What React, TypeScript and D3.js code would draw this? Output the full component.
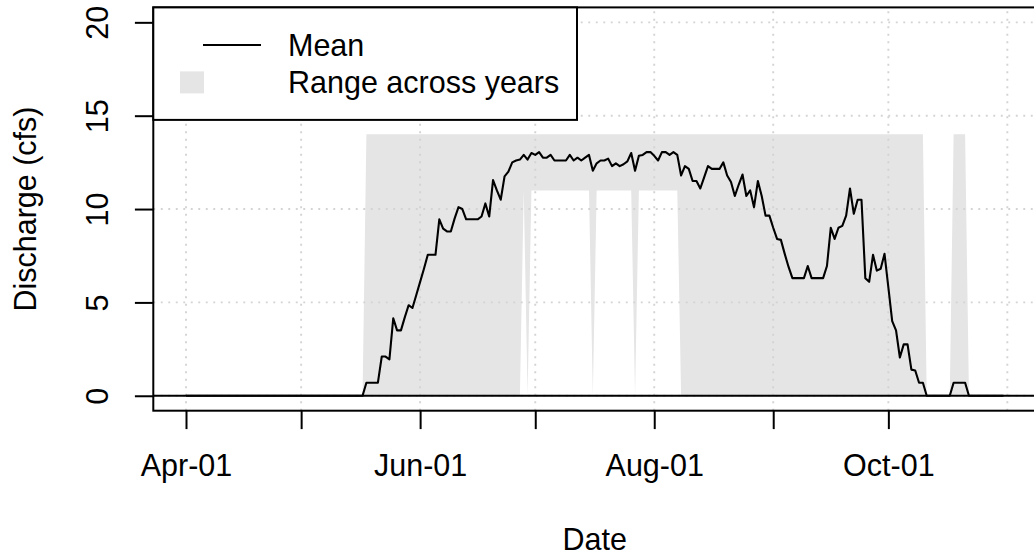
import React, { useEffect, useRef } from "react";
import * as d3 from "d3";

const W = 1034;
const H = 560;
const FONT = "'Liberation Sans', Arial, Helvetica, sans-serif";
const FS = 30.5;

// daily discharge (cfs), Apr-01 .. Oct-31, one row per month
const firstDay = "2021-04-01";

const meanFlow = [
  0, 0, 0, 0, 0, 0, 0, 0, 0, 0, 0, 0, 0, 0, 0, 0, 0, 0, 0, 0, 0, 0, 0, 0, 0, 0, 0, 0, 0, 0,
  0, 0, 0, 0, 0, 0, 0, 0, 0, 0, 0, 0, 0, 0, 0, 0, 0, 0.7, 0.7, 0.7, 0.7, 2.1, 2.1, 1.95, 4.15, 3.5, 3.5, 4.2, 4.85, 4.7, 5.4,
  6.1, 6.8, 7.55, 7.55, 7.55, 9.45, 8.95, 8.8, 8.8, 9.5, 10.1, 10.0, 9.45, 9.45, 9.45, 9.45, 9.6, 10.3, 9.6, 11.55, 11.0, 10.5, 11.75, 12.0, 12.5, 12.6, 12.65, 12.9, 12.65, 13.0,
  12.9, 13.05, 12.75, 12.75, 12.9, 12.6, 12.6, 12.6, 12.6, 12.9, 12.6, 12.75, 12.6, 12.75, 12.9, 12.05, 12.45, 12.6, 12.6, 12.7, 12.3, 12.45, 12.3, 12.4, 12.55, 13.0, 12.05, 12.85, 12.9, 13.05, 13.05,
  12.85, 12.6, 13.05, 13.05, 12.9, 13.05, 12.9, 11.8, 12.3, 12.15, 11.5, 11.5, 11.1, 11.7, 12.3, 12.15, 12.15, 12.15, 12.5, 11.8, 11.45, 10.7, 11.3, 11.85, 10.7, 11.0, 10.1, 11.5, 10.7, 9.65, 9.65,
  9.0, 8.4, 8.35, 7.6, 6.9, 6.3, 6.3, 6.3, 6.3, 6.95, 6.3, 6.3, 6.3, 6.3, 6.95, 9.0, 8.4, 9.0, 9.1, 9.65, 11.1, 9.75, 10.5, 10.5, 6.3, 6.1, 7.55, 6.7, 6.8, 7.6,
  5.8, 4.0, 3.5, 2.05, 2.75, 2.75, 1.4, 1.35, 0.7, 0.7, 0, 0, 0, 0, 0, 0, 0, 0.7, 0.7, 0.7, 0.7, 0, 0, 0, 0, 0, 0, 0, 0, 0, 0,
];

const minFlow = [
  0, 0, 0, 0, 0, 0, 0, 0, 0, 0, 0, 0, 0, 0, 0, 0, 0, 0, 0, 0, 0, 0, 0, 0, 0, 0, 0, 0, 0, 0,
  0, 0, 0, 0, 0, 0, 0, 0, 0, 0, 0, 0, 0, 0, 0, 0, 0, 0, 0, 0, 0, 0, 0, 0, 0, 0, 0, 0, 0, 0, 0,
  0, 0, 0, 0, 0, 0, 0, 0, 0, 0, 0, 0, 0, 0, 0, 0, 0, 0, 0, 0, 0, 0, 0, 0, 0, 0, 0, 11, 0, 11,
  11, 11, 11, 11, 11, 11, 11, 11, 11, 11, 11, 11, 11, 11, 11, 0, 11, 11, 11, 11, 11, 11, 11, 11, 11, 11, 0, 11, 11, 11, 11,
  11, 11, 11, 11, 11, 11, 11, 0, 0, 0, 0, 0, 0, 0, 0, 0, 0, 0, 0, 0, 0, 0, 0, 0, 0, 0, 0, 0, 0, 0, 0,
  0, 0, 0, 0, 0, 0, 0, 0, 0, 0, 0, 0, 0, 0, 0, 0, 0, 0, 0, 0, 0, 0, 0, 0, 0, 0, 0, 0, 0, 0,
  0, 0, 0, 0, 0, 0, 0, 0, 0, 0, 0, 0, 0, 0, 0, 0, 0, 0, 0, 0, 0, 0, 0, 0, 0, 0, 0, 0, 0, 0, 0,
];

const maxFlow = [
  0, 0, 0, 0, 0, 0, 0, 0, 0, 0, 0, 0, 0, 0, 0, 0, 0, 0, 0, 0, 0, 0, 0, 0, 0, 0, 0, 0, 0, 0,
  0, 0, 0, 0, 0, 0, 0, 0, 0, 0, 0, 0, 0, 0, 0, 0, 0, 14, 14, 14, 14, 14, 14, 14, 14, 14, 14, 14, 14, 14, 14,
  14, 14, 14, 14, 14, 14, 14, 14, 14, 14, 14, 14, 14, 14, 14, 14, 14, 14, 14, 14, 14, 14, 14, 14, 14, 14, 14, 14, 14, 14,
  14, 14, 14, 14, 14, 14, 14, 14, 14, 14, 14, 14, 14, 14, 14, 14, 14, 14, 14, 14, 14, 14, 14, 14, 14, 14, 14, 14, 14, 14, 14,
  14, 14, 14, 14, 14, 14, 14, 14, 14, 14, 14, 14, 14, 14, 14, 14, 14, 14, 14, 14, 14, 14, 14, 14, 14, 14, 14, 14, 14, 14, 14,
  14, 14, 14, 14, 14, 14, 14, 14, 14, 14, 14, 14, 14, 14, 14, 14, 14, 14, 14, 14, 14, 14, 14, 14, 14, 14, 14, 14, 14, 14,
  14, 14, 14, 14, 14, 14, 14, 14, 14, 14, 0, 0, 0, 0, 0, 0, 0, 14, 14, 14, 14, 0, 0, 0, 0, 0, 0, 0, 0, 0, 0,
];

const yTicks = [0, 5, 10, 15, 20];
const yLimits = [0, 20];
const tickMonths = ["2021-04-01", "2021-05-01", "2021-06-01", "2021-07-01", "2021-08-01", "2021-09-01", "2021-10-01"];
const gridMonths = [...tickMonths, "2021-11-01"];
const legendLabels = ["Mean", "Range across years"];

export default function App() {
  const ref = useRef<SVGSVGElement>(null);

  useEffect(() => {
    const svg = d3.select(ref.current);
    svg.selectAll("*").remove();

    const box = { left: 153.3, right: 1036.2, top: 7.4, bottom: 410.7 };
    const line = 36.8; // one margin line
    const lw = 2;
    const padX = ((box.right - box.left) * 0.04) / 1.08;
    const padY = ((box.bottom - box.top) * 0.04) / 1.08;

    const parse = d3.utcParse("%Y-%m-%d");
    const start = parse(firstDay)!;
    const days = meanFlow.map((_, i) => d3.utcDay.offset(start, i));

    const x = d3.scaleUtc()
      .domain([days[0], days[days.length - 1]])
      .range([box.left + padX, box.right - padX]);
    const y = d3.scaleLinear()
      .domain(yLimits)
      .range([box.bottom - padY, box.top + padY]);

    svg.append("defs").append("clipPath").attr("id", "plotClip")
      .append("rect")
      .attr("x", box.left).attr("y", box.top)
      .attr("width", box.right - box.left).attr("height", box.bottom - box.top);

    const plot = svg.append("g").attr("clip-path", "url(#plotClip)");

    // range polygon
    const area = d3.area<number>()
      .x(i => x(days[i]))
      .y0(i => y(minFlow[i]))
      .y1(i => y(maxFlow[i]));
    plot.append("path")
      .attr("d", area(d3.range(days.length)))
      .attr("fill", "#e5e5e5");

    // grid
    const grid = plot.append("g")
      .attr("stroke", "#d3d3d3")
      .attr("stroke-width", 1.9)
      .attr("stroke-dasharray", "1.9 5.6");
    grid.selectAll("line.v")
      .data(gridMonths.map(m => parse(m)!))
      .join("line")
      .attr("class", "v")
      .attr("x1", d => x(d)).attr("x2", d => x(d))
      .attr("y1", box.bottom).attr("y2", box.top);
    grid.selectAll("line.h")
      .data(yTicks)
      .join("line")
      .attr("class", "h")
      .attr("x1", box.left).attr("x2", box.right)
      .attr("y1", d => y(d)).attr("y2", d => y(d));

    // zero line
    plot.append("line")
      .attr("x1", box.left).attr("x2", box.right)
      .attr("y1", y(0)).attr("y2", y(0))
      .attr("stroke", "#000").attr("stroke-width", lw);

    // mean line
    const meanLine = d3.line<number>()
      .x((_, i) => x(days[i]))
      .y(d => y(d));
    plot.append("path")
      .attr("d", meanLine(meanFlow))
      .attr("fill", "none")
      .attr("stroke", "#000")
      .attr("stroke-width", 2.1)
      .attr("stroke-linejoin", "round");

    // box
    svg.append("rect")
      .attr("x", box.left).attr("y", box.top)
      .attr("width", box.right - box.left).attr("height", box.bottom - box.top)
      .attr("fill", "none").attr("stroke", "#000").attr("stroke-width", lw);

    // x axis
    const fmt = d3.utcFormat("%b-%d");
    const xAxis = svg.append("g")
      .attr("transform", `translate(0,${box.bottom})`)
      .call(d3.axisBottom(x)
        .tickValues(tickMonths.map(m => parse(m)!))
        .tickSize(line / 2)
        .tickFormat((d, i) => (i % 2 === 0 ? fmt(d as Date) : "")));
    xAxis.select(".domain").remove();
    xAxis.selectAll("line").attr("stroke", "#000").attr("stroke-width", lw);
    xAxis.selectAll("text")
      .attr("y", line * 1.78)
      .attr("dy", null)
      .attr("fill", "#000")
      .attr("font-family", FONT)
      .attr("font-size", FS);

    // y axis
    const yAxis = svg.append("g")
      .attr("transform", `translate(${box.left},0)`)
      .call(d3.axisLeft(y).tickValues(yTicks).tickSize(line / 2).tickFormat(d3.format("d")));
    yAxis.select(".domain").remove();
    yAxis.selectAll("line").attr("stroke", "#000").attr("stroke-width", lw);
    yAxis.selectAll("text")
      .attr("x", 0)
      .attr("dy", null)
      .attr("text-anchor", "middle")
      .attr("transform", `translate(${-line * 1.23},0) rotate(-90)`)
      .attr("fill", "#000")
      .attr("font-family", FONT)
      .attr("font-size", FS);

    // axis titles
    svg.append("text")
      .attr("x", (box.left + box.right) / 2)
      .attr("y", box.bottom + line * 3.78)
      .attr("text-anchor", "middle")
      .attr("font-family", FONT)
      .attr("font-size", FS)
      .text("Date");
    svg.append("text")
      .attr("transform", `translate(${box.left - line * 3.2},${(box.top + box.bottom) / 2}) rotate(-90)`)
      .attr("text-anchor", "middle")
      .attr("font-family", FONT)
      .attr("font-size", FS)
      .text("Discharge (cfs)");

    // legend
    const lg = svg.append("g");
    const rowH = 37.5;
    lg.append("rect")
      .attr("x", box.left).attr("y", box.top)
      .attr("width", 577 - box.left).attr("height", rowH * 3)
      .attr("fill", "#fff").attr("stroke", "#000").attr("stroke-width", lw);
    const rowY = (k: number) => box.top + rowH * (k + 1);
    lg.append("line")
      .attr("x1", 203).attr("x2", 261)
      .attr("y1", rowY(0)).attr("y2", rowY(0))
      .attr("stroke", "#000").attr("stroke-width", lw);
    lg.append("rect")
      .attr("x", 180).attr("y", rowY(1) - 11)
      .attr("width", 24).attr("height", 22)
      .attr("fill", "#e5e5e5");
    lg.selectAll("text.lab")
      .data(legendLabels)
      .join("text")
      .attr("class", "lab")
      .attr("x", 288)
      .attr("y", (_, k) => rowY(k) + FS * 0.36)
      .attr("font-family", FONT)
      .attr("font-size", FS)
      .text(d => d);
  }, []);

  return (
    <svg
      ref={ref}
      width={W}
      height={H}
      style={{ position: "absolute", left: 0, top: 0, background: "#fff" }}
    />
  );
}
